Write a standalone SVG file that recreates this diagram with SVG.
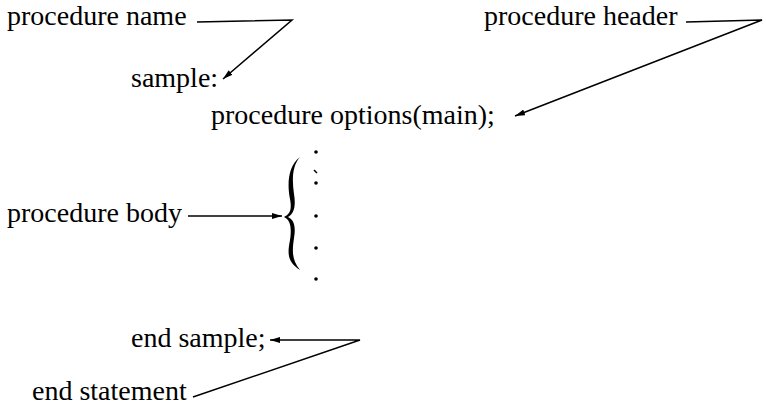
<svg xmlns="http://www.w3.org/2000/svg" width="766" height="409" viewBox="0 0 766 409">
<defs>
<marker id="ah" viewBox="0 0 10 6" refX="10" refY="3" markerWidth="10" markerHeight="6" markerUnits="userSpaceOnUse" orient="auto">
<path d="M0,0 L10,3 L0,6 Z" fill="#000"/>
</marker>
<style>
text{font-family:"Liberation Serif","Times New Roman",serif;font-size:28px;fill:#000}
.c{fill:none;stroke:#000;stroke-width:1.5}
.dot{fill:#000}
</style>
</defs>
<rect width="766" height="409" fill="#fff"/>
<g id="label-procedure-name"><text x="7" y="25">procedure name</text></g>
<g id="label-procedure-header"><text x="484" y="25">procedure header</text></g>
<g id="code-sample"><text x="131" y="87">sample:</text></g>
<g id="code-procedure-options"><text x="211" y="124">procedure options(main);</text></g>
<g id="label-procedure-body"><text x="7" y="222">procedure body</text></g>
<g id="code-end-sample"><text x="131" y="347">end sample;</text></g>
<g id="label-end-statement"><text x="32" y="400">end statement</text></g>
<g id="body-brace">
<path d="M300,157 C288,166 287,184 290,199 C292,210 290,214 284,217 C290,220 292,226 290,240 C287,255 288,262 300,270 C292,260 292,252 294,238 C296,226 294,220 288,217 C294,214 296,206 294,194 C292,180 292,166 300,157 Z" fill="#000"/>
<circle class="dot" cx="316" cy="152" r="1.8"/>
<path d="M314,170 L317,173" stroke="#000" stroke-width="1.5"/>
<circle class="dot" cx="316" cy="183" r="1.8"/>
<circle class="dot" cx="316" cy="216" r="1.8"/>
<circle class="dot" cx="316" cy="248" r="1.8"/>
<circle class="dot" cx="316" cy="279" r="1.8"/>
</g>
<g id="connectors">
<path class="c" d="M197,22 L292,20 L223,79" marker-end="url(#ah)"/>
<path class="c" d="M686,22 L762,20 L515,116" marker-end="url(#ah)"/>
<path class="c" d="M188,216 L282,216" marker-end="url(#ah)"/>
<path class="c" d="M193,397 L360,340 L270,340" marker-end="url(#ah)"/>
</g>
</svg>
